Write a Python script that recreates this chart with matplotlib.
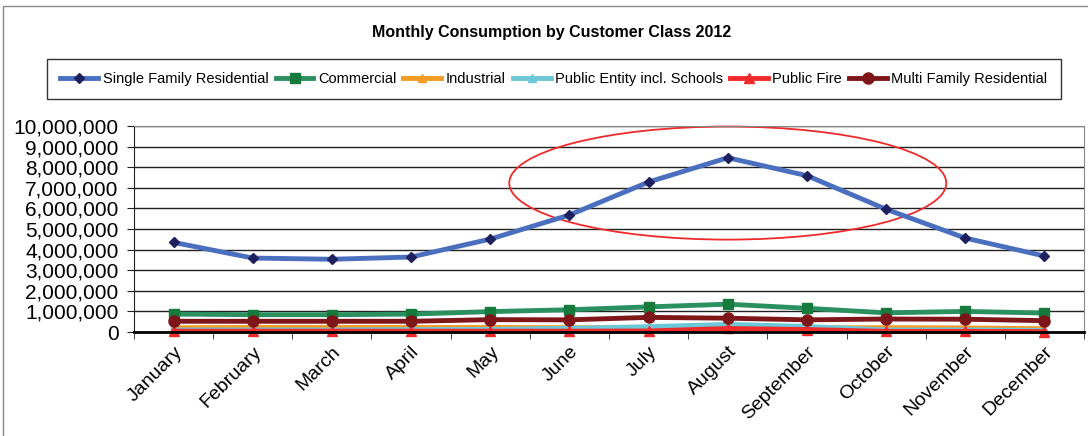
import matplotlib
matplotlib.use("Agg")
import matplotlib.pyplot as plt
from matplotlib.patches import Ellipse, Rectangle
from matplotlib.ticker import FuncFormatter, FixedLocator

# Data (gallons per month)
months = ["January", "February", "March", "April", "May", "June",
          "July", "August", "September", "October", "November", "December"]
single_family = [4350000, 3590000, 3530000, 3640000, 4510000, 5680000,
                 7280000, 8460000, 7590000, 5960000, 4560000, 3690000]
commercial = [870000, 840000, 840000, 870000, 990000, 1080000,
              1220000, 1350000, 1150000, 930000, 1000000, 920000]
industrial = [210000, 220000, 220000, 220000, 220000, 210000,
              200000, 220000, 200000, 210000, 200000, 160000]
public_entity = [100000, 100000, 100000, 120000, 130000, 180000,
                 260000, 370000, 270000, 100000, 100000, 80000]
public_fire = [40000, 40000, 40000, 40000, 40000, 40000,
               50000, 170000, 120000, 30000, 30000, 20000]
multi_family = [520000, 520000, 520000, 520000, 600000, 590000,
                710000, 670000, 590000, 630000, 620000, 550000]

series = [
    ("Single Family Residential", single_family, "#4A6FBF", "D", "#1F2060", 5),
    ("Commercial", commercial, "#2A9060", "s", "#157A3C", 7),
    ("Industrial", industrial, "#F29A24", "^", "#F29A24", 6),
    ("Public Entity incl. Schools", public_entity, "#6CC8D6", "^", "#6CC8D6", 6),
    ("Public Fire", public_fire, "#EE2A2A", "^", "#EE2A2A", 7),
    ("Multi Family Residential", multi_family, "#7E1518", "o", "#7E1518", 8),
]

fig = plt.figure(figsize=(10.88, 4.36), dpi=100)
ax = fig.add_axes([134 / 1088, 1 - 332 / 436, 950 / 1088, 206 / 436])

x = list(range(len(months)))
for name, vals, color, marker, mcolor, ms in series:
    ax.plot(x, vals, color=color, lw=3.5, marker=marker, markersize=ms,
            markerfacecolor=mcolor, markeredgecolor=mcolor, label=name,
            clip_on=False)

# Axes styling
ax.set_xlim(-0.5, len(months) - 0.5)
ax.set_ylim(0, 10000000)
ax.set_yticks(range(0, 10000001, 1000000))
ax.yaxis.set_major_formatter(FuncFormatter(lambda v, p: f"{v:,.0f}"))
ax.grid(axis="y", color="#222222", lw=1)
ax.set_axisbelow(True)
ax.tick_params(axis="y", labelsize=15, length=5, color="#222222", pad=6,
               labelfontfamily="Liberation Sans")

ax.set_xticks(x)
ax.set_xticklabels(months, rotation=45, ha="right", rotation_mode="anchor",
                   fontsize=14, family="Liberation Sans")
ax.tick_params(axis="x", which="major", length=0, pad=8)
ax.xaxis.set_minor_locator(FixedLocator([i - 0.5 for i in range(len(months) + 1)]))
ax.tick_params(axis="x", which="minor", length=5, color="#222222")

for side in ["top", "right"]:
    ax.spines[side].set_color("#888888")
ax.spines["left"].set_color("#222222")
ax.spines["bottom"].set_color("#000000")
ax.spines["bottom"].set_linewidth(2)

# Highlight ellipse around the summer peak
ax.add_patch(Ellipse((7.0, 7230000), 5.52, 5490000, fill=False,
                     edgecolor="#EE2A2A", lw=1.3, clip_on=False))

# Title and legend
fig.text(552 / 1088, 1 - 32 / 436, "Monthly Consumption by Customer Class 2012",
         ha="center", va="center", fontsize=11.5, fontweight="bold",
         family="Liberation Sans")
leg = fig.legend(loc="center", ncol=6, mode="expand",
                 bbox_to_anchor=(40 / 1088, 1 - 100 / 436, 1028 / 1088, 42 / 436),
                 handlelength=2.6, handletextpad=0.3,
                 columnspacing=1.0, fancybox=False, borderpad=0.9,
                 prop={"family": "Liberation Sans", "size": 10.5})
leg.get_frame().set_edgecolor("#000000")
leg.get_frame().set_linewidth(1)

# Chart area border
fig.patches.append(Rectangle((3 / 1088, -0.01), 1.1, 1 - 6 / 436 + 0.01,
                             transform=fig.transFigure, fill=False,
                             edgecolor="#888888", lw=1))

fig.savefig("out.png", dpi=100)
